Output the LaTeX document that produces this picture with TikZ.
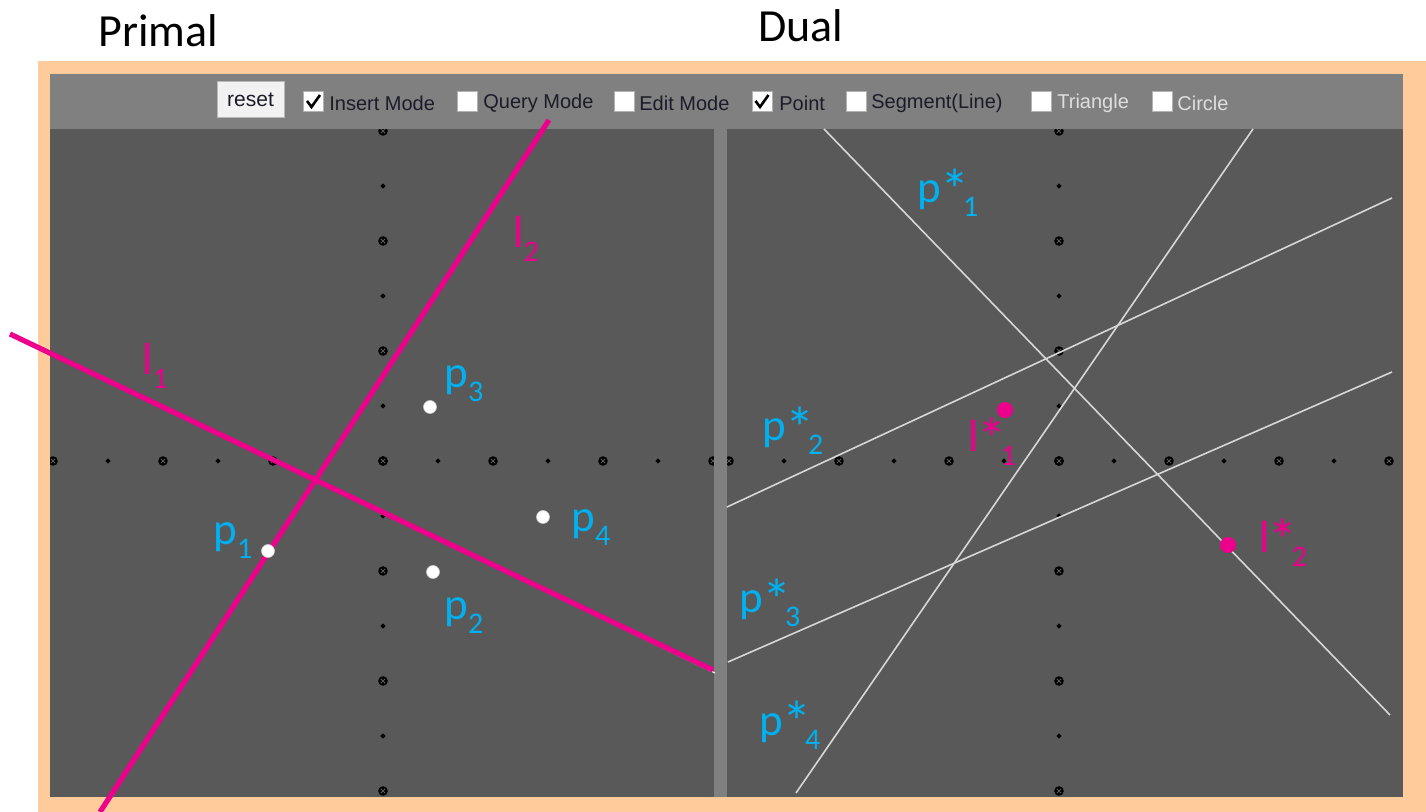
\documentclass[tikz,border=0pt]{standalone}
\usepackage{fontspec}
\newfontfamily\carl{Carlito}
\newfontfamily\uisans{Liberation Sans}
\definecolor{frameor}{RGB}{255,203,154}
\definecolor{wingray}{RGB}{128,128,128}
\definecolor{panelgray}{RGB}{89,89,89}
\definecolor{lblue}{RGB}{0,176,240}
\definecolor{mag}{RGB}{236,0,140}
\definecolor{dualline}{RGB}{215,215,215}
\definecolor{uitext}{RGB}{28,28,40}
\definecolor{uidis}{RGB}{222,222,222}
\newcommand\sublab[2]{#1\raisebox{-7pt}{\fontsize{15}{15}\selectfont #2}}
\newcommand\bigast{\kern-0.5pt\raisebox{-4pt}{\scalebox{1.3}{*}}\kern-3pt}
\begin{document}
\begin{tikzpicture}[x=0.5pt,y=-0.5pt,
  title/.style={font=\carl\fontsize{23}{23}\selectfont, text=black, inner sep=0pt, anchor=base west},
  blab/.style={font=\carl\fontsize{22.5}{22.5}\selectfont, text=lblue, inner sep=0pt, anchor=base west},
  mlab/.style={font=\carl\fontsize{22.5}{22.5}\selectfont, text=mag, inner sep=0pt, anchor=base west},
  uilab/.style={font=\uisans\fontsize{10}{10}\selectfont, text=uitext, inner sep=0pt, anchor=west},
  uidisab/.style={uilab, text=uidis},
  cbox/.style={fill=white, draw=gray!60, line width=0.5pt, minimum width=10pt, minimum height=10pt, inner sep=0pt},
  checkmark/.style={draw=black, line width=1.3pt},
  dualstroke/.style={draw=dualline, line width=0.8pt},
  magstroke/.style={draw=mag, line width=2.6pt},
  ptwhite/.style={fill=white, draw=gray!40, line width=0.3pt},
  ptmag/.style={fill=mag},
  bigdot/.pic={\fill[black] (0,0) circle[radius=4.8];
    \draw[panelgray, line width=0.5pt] (-2.2,-2.2)--(2.2,2.2) (-2.2,2.2)--(2.2,-2.2);},
  smalldot/.pic={\fill[black] (-2.7,0)--(0,-2.7)--(2.7,0)--(0,2.7)--cycle;}
]
\useasboundingbox (0,0) rectangle (1426,812);
\fill[white] (0,0) rectangle (1426,812);
% frame and window
\fill[frameor] (38,61) rectangle (1426,812);
\fill[wingray] (50,74) rectangle (1403,797);
\fill[panelgray] (50,129) rectangle (714,797);
\fill[panelgray] (727,129) rectangle (1403,797);
% grid dots left
\begin{scope}
\clip (50,129) rectangle (714,797);
\foreach \i in {-6,...,6} {
  \ifodd\i
    \pic at ({383+55*\i},461) {smalldot};
    \pic at (383,{461+55*\i}) {smalldot};
  \else
    \pic at ({383+55*\i},461) {bigdot};
    \pic at (383,{461+55*\i}) {bigdot};
  \fi
}
\end{scope}
% grid dots right
\begin{scope}
\clip (727,129) rectangle (1403,797);
\foreach \i in {-6,...,6} {
  \ifodd\i
    \pic at ({1059+55*\i},461) {smalldot};
    \pic at (1059,{461+55*\i}) {smalldot};
  \else
    \pic at ({1059+55*\i},461) {bigdot};
    \pic at (1059,{461+55*\i}) {bigdot};
  \fi
}
\end{scope}
\fill[wingray] (50,74) rectangle (1403,129);
% toolbar
\node[fill=gray!10, draw=gray!55, line width=0.5pt, minimum width=33.5pt, minimum height=18pt, inner sep=0pt,
  font=\uisans\fontsize{10.5}{10.5}\selectfont, text=uitext] (reset) at (250.5,100) {reset};
\node[cbox] (cb1) at (313.5,102) {};
\node[cbox] (cb2) at (467.5,102) {};
\node[cbox] (cb3) at (624,102) {};
\node[cbox] (cb4) at (762,102) {};
\node[cbox] (cb5) at (856,102) {};
\node[cbox] (cb6) at (1041,102) {};
\node[cbox] (cb7) at (1162.5,102) {};
\draw[checkmark] (307,101)--(311.5,107)--(320,95);
\draw[checkmark] (755.5,101)--(760,107)--(768.5,95);
\node[uilab] (t1) at (329,103) {Insert Mode};
\node[uilab] (t2) at (483,103) {Query Mode};
\node[uilab] (t3) at (639,103) {Edit Mode};
\node[uilab] (t4) at (779,103) {Point};
\node[uilab] (t5) at (871,103) {Segment(Line)};
\node[uidisab] (t6) at (1057,103) {Triangle};
\node[uidisab] (t7) at (1177,103) {Circle};
% separator
\fill[wingray] (714,129) rectangle (727,797);
% titles
\node[title] (primal) at (98,47) {Primal};
\node[title] (dual) at (758,42) {Dual};
% dual lines
\coordinate (d1a) at (824,129); \coordinate (d1b) at (1390,715);
\coordinate (d2a) at (727,507); \coordinate (d2b) at (1392,198);
\coordinate (d3a) at (728,662); \coordinate (d3b) at (1392,372);
\coordinate (d4a) at (796,793); \coordinate (d4b) at (1253,129);
\draw[dualstroke] (d1a) -- (d1b);
\draw[dualstroke] (d2a) -- (d2b);
\draw[dualstroke] (d3a) -- (d3b);
\draw[dualstroke] (d4a) -- (d4b);
% primal lines
\coordinate (l1a) at (10,334); \coordinate (l1b) at (713,670);
\coordinate (l1w) at (715,673);
\coordinate (l2a) at (100,812); \coordinate (l2b) at (549,120);
\draw[draw=white!85!gray, line width=0.6pt] (l1a) -- (l1w);
\draw[magstroke] (l1a) -- (l1b);
\draw[magstroke] (l2a) -- (l2b);
% primal points
\fill[ptwhite] (268,551) circle[radius=6.5];
\fill[ptwhite] (433,572) circle[radius=6.5];
\fill[ptwhite] (430,407) circle[radius=6.5];
\fill[ptwhite] (543,517) circle[radius=6.5];
% dual points
\fill[ptmag] (1005,410) circle[radius=8];
\fill[ptmag] (1228,545) circle[radius=8];
% labels
\node[mlab] (ll1) at (142,375) {\sublab{l}{1}};
\node[mlab] (ll2) at (513,248) {\sublab{l}{2}};
\node[blab] (lp1) at (213,545) {\sublab{p}{1}};
\node[blab] (lp2) at (444,620) {\sublab{p}{2}};
\node[blab] (lp3) at (444,388) {\sublab{p}{3}};
\node[blab] (lp4) at (571,532) {\sublab{p}{4}};
\node[blab] (ld1) at (917,203) {\sublab{p\bigast}{1}};
\node[blab] (ld2) at (762,441) {\sublab{p\bigast}{2}};
\node[blab] (ld3) at (739,613) {\sublab{p\bigast}{3}};
\node[blab] (ld4) at (759,735) {\sublab{p\bigast}{4}};
\node[mlab] (lm1) at (968,452) {\sublab{l\bigast}{1}};
\node[mlab] (lm2) at (1259,553) {\sublab{l\bigast}{2}};
\end{tikzpicture}
\end{document}
